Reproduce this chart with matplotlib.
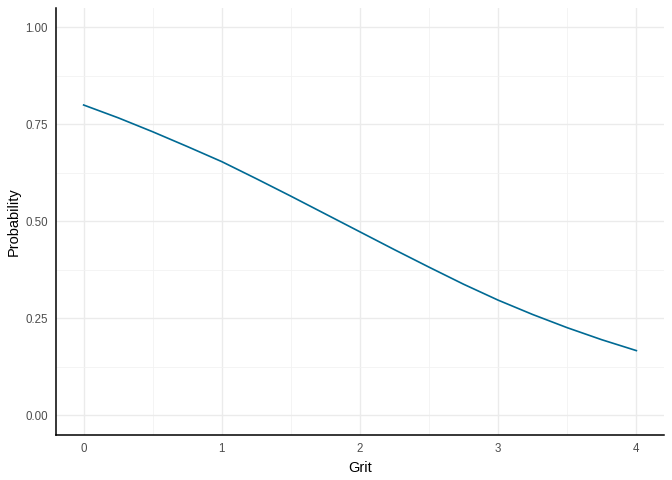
import matplotlib.pyplot as plt
import numpy as np

# values
grit = [0, 0.25, 0.5, 0.75, 1, 1.25, 1.5, 1.75, 2, 2.25, 2.5, 2.75, 3, 3.25, 3.5, 3.75, 4]
prob = [0.799, 0.766, 0.730, 0.692, 0.653, 0.609, 0.564, 0.518, 0.472,
        0.426, 0.381, 0.337, 0.296, 0.259, 0.225, 0.194, 0.166]

x_ticks = [0, 1, 2, 3, 4]
y_ticks = [0.0, 0.25, 0.5, 0.75, 1.0]
y_labels = ["0.00", "0.25", "0.50", "0.75", "1.00"]

plt.rcParams['font.family'] = ['Liberation Sans', 'DejaVu Sans']

fig = plt.figure(figsize=(6.72, 4.8), dpi=100)
ax = fig.add_axes([56 / 672, 1 - 435 / 480, (664 - 56) / 672, (435 - 8) / 480])

ax.plot(grit, prob, color='#006a94', lw=1.2, zorder=3)

ax.set_xlim(-0.2, 4.2)
ax.set_ylim(-0.0515, 1.049)
ax.set_xticks(x_ticks, [str(v) for v in x_ticks])
ax.set_yticks(y_ticks, y_labels)
ax.set_xticks(np.arange(0.5, 4, 1), minor=True)
ax.set_yticks(np.arange(0.125, 1, 0.25), minor=True)

ax.grid(which='major', color='#ebebeb', lw=1.0)
ax.grid(which='minor', color='#f2f2f2', lw=0.6)
ax.set_axisbelow(True)

ax.tick_params(which='both', length=0, labelsize=8.3, labelcolor='#4d4d4d', pad=6)
for s in ['top', 'right']:
    ax.spines[s].set_visible(False)
for s in ['left', 'bottom']:
    ax.spines[s].set_color('black')
    ax.spines[s].set_linewidth(1.1)

ax.set_xlabel('Grit', fontsize=10.5, labelpad=4)
ax.set_ylabel('Probability', fontsize=10.5, labelpad=3)

fig.savefig('out.png', dpi=100)
